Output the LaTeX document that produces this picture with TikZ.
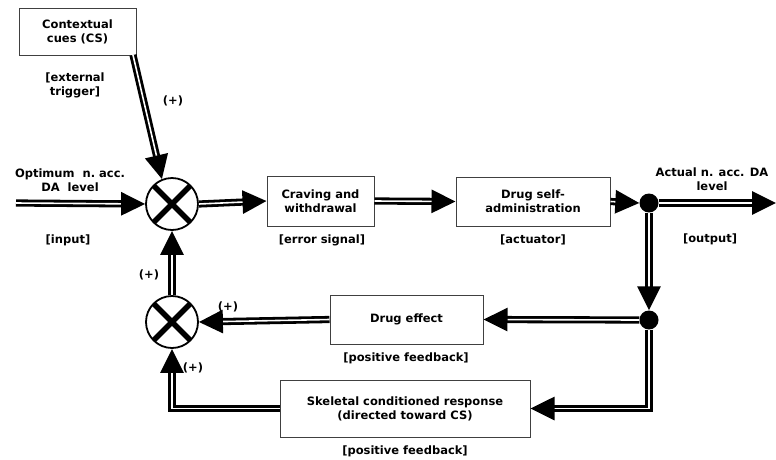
\documentclass[tikz,border=0pt]{standalone}
\usepackage{fontspec}
\setmainfont{DejaVu Sans}
\usetikzlibrary{arrows.meta,calc}
\begin{document}
\begin{tikzpicture}[x=1pt,y=-1pt,
  every node/.style={font=\fontsize{11.5}{14}\selectfont\bfseries, align=center, inner sep=0pt},
  blk/.style={draw=black!75, line width=1pt, fill=white},
  dl/.style={draw=black, line width=2.8pt, double=white, double distance=1.6pt},
  arr/.style={dl, -{Triangle[length=24pt,width=23pt]}},
  sumnode/.style={circle, draw=black, line width=1.8pt, minimum size=52pt, fill=white,
    path picture={\draw[line width=5.5pt] (path picture bounding box.south west) -- (path picture bounding box.north east)
      (path picture bounding box.north west) -- (path picture bounding box.south east);}},
  dotnode/.style={circle, fill=black, minimum size=19pt},
  lbl/.style={}
]
\useasboundingbox (0,0) rectangle (776,459);

% blocks
\node[blk, minimum width=117pt, minimum height=47pt] (cs) at (77.5,31.5) {Contextual\\cues (CS)};
\node[blk, minimum width=107pt, minimum height=50pt] (crave) at (320.5,201) {Craving and\\withdrawal};
\node[blk, minimum width=154pt, minimum height=49pt] (sa) at (533,201.5) {Drug self-\\administration};
\node[blk, minimum width=153pt, minimum height=49pt] (drug) at (406.5,319.5) {Drug effect};
\node[blk, minimum width=250pt, minimum height=57pt] (skel) at (405,408.5) {Skeletal conditioned response\\(directed toward CS)};

% summing junctions and dots
\node[sumnode] (sum1) at (172,204) {};
\node[sumnode] (sum2) at (172,322) {};
\node[dotnode] (dot1) at (649,203) {};
\node[dotnode] (dot2) at (649,320) {};

% free ends
\coordinate (in) at (16,203);
\coordinate (out) at (776,203);
\coordinate (csout) at (133,55);

% labels
\node[lbl] (lext) at (75,85) {[external\\trigger]};
\node[lbl] (lp1) at (173,101) {(+)};
\node[lbl] (lopt) at (70,180) {Optimum\ \ n.\ acc.\\DA\ \ level};
\node[lbl] (linput) at (68,240) {[input]};
\node[lbl] (lerr) at (322,240) {[error signal]};
\node[lbl] (lact) at (533,240) {[actuator]};
\node[lbl] (lactual) at (712,179) {Actual n. acc. DA\\level};
\node[lbl] (lout) at (710,239) {[output]};
\node[lbl] (lpf1) at (406,358) {[positive feedback]};
\node[lbl] (lpf2) at (405,451) {[positive feedback]};
\node[lbl] (lp2) at (149,275) {(+)};
\node[lbl] (lp3) at (228,307) {(+)};
\node[lbl] (lp4) at (193,368) {(+)};

% connectors
\draw[arr] (csout) -- (sum1.112);
\draw[arr] (in) -- (sum1.west);
\draw[arr] (sum1.east) -- (crave.west);
\draw[arr] (crave.east) -- (sa.west);
\draw[arr] (sa.east) -- (dot1.west);
\draw[arr] (dot1.east) -- (out);
\draw[arr] (dot1.south) -- (dot2.north);
\draw[arr] (dot2.west) -- (drug.east);
\draw[arr] (dot2.south) |- (skel.east);
\draw[arr] (drug.west) -- (sum2.east);
\draw[arr] (skel.west) -| (sum2.south);
\draw[arr] (sum2.north) -- (sum1.south);
\end{tikzpicture}
\end{document}
